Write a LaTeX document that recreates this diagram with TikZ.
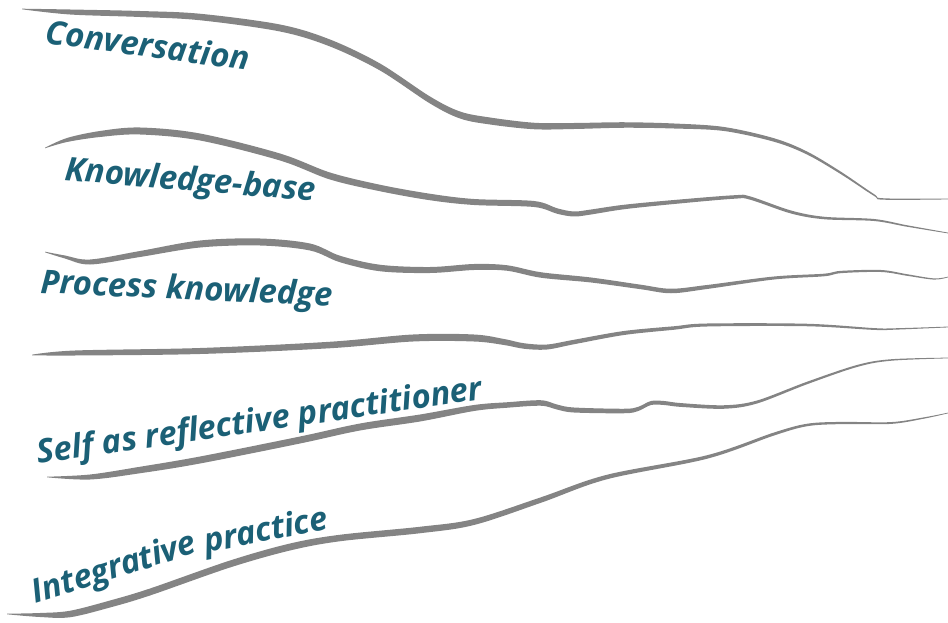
\documentclass[tikz,border=0pt]{standalone}
\usepackage{fontspec}
\setmainfont{Open Sans}
\definecolor{brushgray}{RGB}{132,132,132}
\definecolor{labelteal}{RGB}{27,96,118}
\tikzset{
  brush/.style={fill=brushgray},
  lbl/.style={text=labelteal, font=\fontsize{33}{38}\selectfont\bfseries\itshape, anchor=base west, inner sep=0pt},
  sm/.style={smooth, tension=0.55}
}
\begin{document}
\begin{tikzpicture}[x=1bp,y=-1bp]
\useasboundingbox (0,0) rectangle (948,623);
% Line 1
\fill[brush] plot[sm] coordinates {(22,8.7)(70,9.5)(140,11)(200,13.75)(280,24.5)(330,39.5)(380,63.5)(430,96.5)(460,111.5)(490,117.5)(534,122.75)(574,123)(624,122.25)(674,123.5)(724,127)(774,138.25)(807,151.5)(841,171.75)(874,194.1)(884,198.3)(948,198.6)}
  -- plot[sm] coordinates {(948,199.4)(884,199.7)(874,195.9)(841,174.25)(807,154.5)(774,141.75)(724,131)(674,128.5)(624,127.75)(574,129)(534,129.25)(490,124.5)(460,118.5)(430,103.5)(380,70.5)(330,46.5)(280,31.5)(200,20.25)(140,17)(70,14.5)(22,9.3)} -- cycle;
% Line 2
\fill[brush] plot[sm] coordinates {(45,147.7)(67,138)(100,131)(140,127.5)(200,133.5)(280,153.5)(330,172.5)(380,184.75)(430,193.75)(474,199)(534,201)(557,208.25)(574,211.5)(591,209.5)(624,204.75)(674,200)(734,195.25)(750,196.35)(791,210.5)(824,216.75)(874,219)(907,225.25)(948,232.6)}
  -- plot[sm] coordinates {(948,233.4)(907,226.75)(874,221)(824,219.25)(791,213.5)(750,199.65)(734,198.75)(674,204)(624,209.25)(591,214.5)(574,216.5)(557,213.75)(534,207)(474,205)(430,200.25)(380,191.25)(330,179.5)(280,160.5)(200,140.5)(140,134.5)(100,137)(67,142)(45,148.3)} -- cycle;
% Line 3
\fill[brush] plot[sm] coordinates {(45,251.7)(65,255.5)(90,259.5)(140,251)(200,240.5)(260,238.5)(310,243.5)(340,255.75)(380,264.75)(430,267)(474,264)(507,265.25)(541,272.25)(591,277.5)(641,284.75)(671,288.75)(707,285)(774,276.5)(824,273.7)(841,270.85)(881,270)(907,274.2)(934,278.4)(948,276.65)}
  -- plot[sm] coordinates {(948,277.35)(934,279.6)(907,275.8)(881,272)(841,273.15)(824,276.3)(774,279.5)(707,289)(671,293.25)(641,289.25)(591,282.5)(541,277.75)(507,270.75)(474,270)(430,273)(380,271.25)(340,262.25)(310,250.5)(260,245.5)(200,247.5)(140,257)(90,264.5)(65,258.5)(45,252.3)} -- cycle;
% Line 4
\fill[brush] plot[sm] coordinates {(32,354.7)(75,350.5)(200,348)(330,341.75)(413,334.5)(474,334.5)(504,339)(524,343.25)(547,344.5)(574,339.75)(624,331)(674,326.25)(707,323.5)(807,323.75)(874,328.1)(894,328.3)(948,326.6)}
  -- plot[sm] coordinates {(948,327.4)(894,329.7)(874,329.9)(807,326.25)(707,326.5)(674,329.75)(624,335)(574,344.25)(547,349.5)(524,348.75)(504,345)(474,341.5)(413,341.5)(330,348.25)(200,354)(75,355.5)(32,355.3)} -- cycle;
% Line 5
\fill[brush] plot[sm] coordinates {(47,476.7)(90,474.5)(140,466.75)(200,456.5)(300,436.5)(360,423.5)(420,414.5)(474,405)(507,402.25)(541,400.25)(557,404.5)(574,407.5)(624,408.75)(638,406.9)(651,401)(664,401)(681,403.1)(724,405.25)(757,400.5)(807,381.75)(857,365)(891,359.25)(948,357.65)}
  -- plot[sm] coordinates {(948,358.35)(891,360.75)(857,367)(807,384.25)(757,403.5)(724,408.75)(681,406.9)(664,405)(651,405)(638,411.1)(624,413.25)(574,412.5)(557,409.5)(541,405.75)(507,407.75)(474,411)(420,421.5)(360,430.5)(300,443.5)(200,463.5)(140,473.25)(90,479.5)(47,477.3)} -- cycle;
% Line 6
\fill[brush] plot[sm] coordinates {(7,613.7)(40,613)(70,610.75)(110,600.5)(150,588.5)(230,560.5)(290,543.5)(340,534.75)(420,526.75)(474,519)(541,497.25)(607,474.75)(707,455.25)(774,432.5)(807,423.75)(841,421.9)(891,422.1)(924,417.35)(948,412.65)}
  -- plot[sm] coordinates {(948,413.35)(924,418.65)(891,423.9)(841,424.1)(807,426.25)(774,435.5)(707,458.75)(607,479.25)(541,502.75)(474,525)(420,533.25)(340,541.25)(290,550.5)(230,567.5)(150,595.5)(110,607.5)(70,617.25)(40,617)(7,614.3)} -- cycle;
% Labels
\node[lbl, rotate=-7.7] (conv) at (44,43) {Conversation};
\node[lbl, rotate=-4.9] (kb) at (64,180) {Knowledge-base};
\node[lbl, rotate=-2.6] (pk) at (40,293) {Process knowledge};
\node[lbl, rotate=8.3] (self) at (38,464) {Self as reflective practitioner};
\node[lbl, rotate=17.5] (integ) at (35,604) {Integrative};
\node[lbl, rotate=11] (pract) at (206,553) {practice};
\end{tikzpicture}
\end{document}
